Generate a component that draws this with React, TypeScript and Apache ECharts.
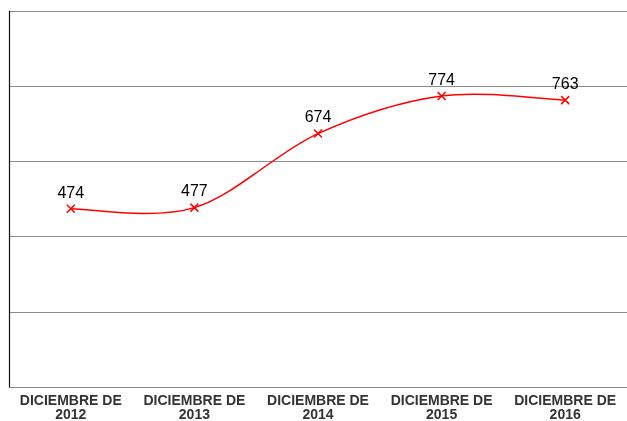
import React, { useEffect, useRef } from "react";
import * as echarts from "echarts";

const categories = [
  "DICIEMBRE DE\n2012",
  "DICIEMBRE DE\n2013",
  "DICIEMBRE DE\n2014",
  "DICIEMBRE DE\n2015",
  "DICIEMBRE DE\n2016",
];
const values = [474, 477, 674, 774, 763];
const yMin = 0;
const yMax = 1000;
const yInterval = 200;

const FONT = "'Liberation Sans', Arial, sans-serif";

export default function App() {
  const ref = useRef<HTMLDivElement>(null);
  useEffect(() => {
    if (!ref.current) return;
    const chart = echarts.init(ref.current, null, { renderer: "svg" });
    chart.setOption({
      animation: false,
      textStyle: { fontFamily: FONT },
      grid: { left: 9, top: 11, right: -5, bottom: 29.5 },
      xAxis: {
        type: "category",
        data: categories,
        boundaryGap: true,
        axisLine: { show: true, lineStyle: { color: "#888", width: 1 } },
        axisTick: { show: false },
        axisLabel: {
          interval: 0,
          margin: 6,
          fontSize: 14,
          fontWeight: "bold",
          color: "#333",
          lineHeight: 14,
          fontFamily: FONT,
        },
      },
      yAxis: {
        type: "value",
        min: yMin,
        max: yMax,
        interval: yInterval,
        axisLine: { show: true, lineStyle: { color: "#111", width: 1.2 } },
        axisTick: { show: false },
        axisLabel: { show: false },
        splitLine: { show: true, lineStyle: { color: "#8c8c8c", width: 1 } },
      },
      series: [
        {
          type: "custom",
          data: [[0, values[0]]],
          silent: true,
          z: 2,
          renderItem: (params: any, api: any) => {
            const pts = values.map((v, i) => api.coord([i, v]));
            let d = `M${pts[0][0]},${pts[0][1]}`;
            for (let i = 0; i < pts.length - 1; i++) {
              const p0 = pts[Math.max(0, i - 1)];
              const p1 = pts[i];
              const p2 = pts[i + 1];
              const p3 = pts[Math.min(pts.length - 1, i + 2)];
              const c1x = p1[0] + (p2[0] - p0[0]) / 6;
              const c1y = p1[1] + (p2[1] - p0[1]) / 6;
              const c2x = p2[0] - (p3[0] - p1[0]) / 6;
              const c2y = p2[1] - (p3[1] - p1[1]) / 6;
              d += ` C${c1x},${c1y} ${c2x},${c2y} ${p2[0]},${p2[1]}`;
            }
            return {
              type: "path",
              shape: { pathData: d },
              style: { stroke: "#ff0000", fill: "none", lineWidth: 1.5 },
            };
          },
        },
        {
          type: "line",
          data: values,
          z: 3,
          symbol: "path://M0,0L10,10M10,0L0,10",
          symbolSize: 8,
          itemStyle: { color: "rgba(0,0,0,0)", borderColor: "#ff0000", borderWidth: 1.5 },
          lineStyle: { opacity: 0, width: 0 },
          label: {
            show: true,
            position: "top",
            distance: 4,
            fontSize: 16,
            color: "#000",
            fontFamily: FONT,
          },
        },
      ],
    });
    return () => chart.dispose();
  }, []);
  return (
    <div
      ref={ref}
      style={{ position: "fixed", left: 0, top: 0, width: 627, height: 421 }}
    />
  );
}
